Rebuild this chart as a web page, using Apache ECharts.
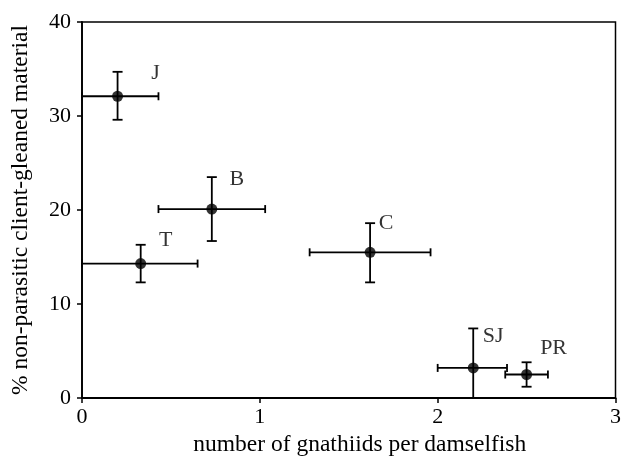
<!DOCTYPE html>
<html>
<head>
<meta charset="utf-8">
<script src="https://cdn.jsdelivr.net/npm/echarts@6/dist/echarts.min.js"></script>
<style>
  html, body { margin: 0; padding: 0; background: #fff; }
  #chart { width: 624px; height: 468px; }
</style>
</head>
<body>
<div id="chart"></div>
<script>
// site codes and measured means / error limits
const sites = ['J', 'B', 'T', 'C', 'SJ', 'PR']
const gnathiids = [0.20, 0.73, 0.33, 1.62, 2.20, 2.50]
const gnathiidsLow = [0.0, 0.43, 0.0, 1.28, 2.00, 2.38]
const gnathiidsHigh = [0.43, 1.03, 0.65, 1.96, 2.39, 2.62]
const material = [32.1, 20.1, 14.3, 15.5, 3.2, 2.5]
const materialLow = [29.6, 16.7, 12.3, 12.3, 0.0, 1.2]
const materialHigh = [34.7, 23.5, 16.3, 18.6, 7.4, 3.8]

const xTicks = [0, 1, 2, 3]
const yTicks = [0, 10, 20, 30, 40]

const font = '"Liberation Serif", "DejaVu Serif", serif'

// label offsets in px (dx, dy) from the point
const labelOffsets = {
  J: [38, -23], B: [25, -30], T: [25, -23], C: [16, -29], SJ: [20, -32], PR: [27, -26]
}

const chart = echarts.init(document.getElementById('chart'))

const errData = sites.map((s, i) => [
  gnathiids[i], material[i],
  gnathiidsLow[i], gnathiidsHigh[i],
  materialLow[i], materialHigh[i]
])

function renderErr(params, api) {
  const c = api.coord([api.value(0), api.value(1)])
  const xl = api.coord([api.value(2), api.value(1)])
  const xh = api.coord([api.value(3), api.value(1)])
  const yl = api.coord([api.value(0), api.value(4)])
  const yh = api.coord([api.value(0), api.value(5)])
  const st = { stroke: '#000', lineWidth: 1.8 }
  const capH = 4
  const capV = 5
  return {
    type: 'group',
    children: [
      { type: 'line', shape: { x1: xl[0], y1: c[1], x2: xh[0], y2: c[1] }, style: st },
      { type: 'line', shape: { x1: xl[0], y1: c[1] - capH, x2: xl[0], y2: c[1] + capH }, style: st },
      { type: 'line', shape: { x1: xh[0], y1: c[1] - capH, x2: xh[0], y2: c[1] + capH }, style: st },
      { type: 'line', shape: { x1: c[0], y1: yl[1], x2: c[0], y2: yh[1] }, style: st },
      { type: 'line', shape: { x1: c[0] - capV, y1: yl[1], x2: c[0] + capV, y2: yl[1] }, style: st },
      { type: 'line', shape: { x1: c[0] - capV, y1: yh[1], x2: c[0] + capV, y2: yh[1] }, style: st }
    ]
  }
}

const option = {
  animation: false,
  grid: {
    left: 82, right: 7, top: 22, bottom: 70,
    show: true, borderColor: '#000', borderWidth: 1.5
  },
  xAxis: {
    type: 'value',
    min: xTicks[0],
    max: xTicks[xTicks.length - 1],
    interval: 1,
    name: 'number of gnathiids per damselfish',
    nameLocation: 'middle',
    nameGap: 30,
    nameTextStyle: { fontFamily: font, fontSize: 23.5, color: '#000', padding: [0, 0, 0, 22] },
    axisLine: { lineStyle: { color: '#000', width: 1.8 } },
    axisTick: { show: true, inside: false, length: 5, lineStyle: { color: '#000', width: 1.5 } },
    axisLabel: { fontFamily: font, fontSize: 22, color: '#000', margin: 8 },
    splitLine: { show: false }
  },
  yAxis: {
    type: 'value',
    min: yTicks[0],
    max: yTicks[yTicks.length - 1],
    interval: 10,
    name: '% non-parasitic client-gleaned material',
    nameLocation: 'middle',
    nameGap: 49,
    nameTextStyle: { fontFamily: font, fontSize: 23.5, color: '#000', padding: [0, 0, 0, 0] },
    axisLine: { lineStyle: { color: '#000', width: 1.8 } },
    axisTick: { show: true, inside: false, length: 5, lineStyle: { color: '#000', width: 1.5 } },
    axisLabel: { fontFamily: font, fontSize: 22, color: '#000', margin: 11 },
    splitLine: { show: false }
  },
  series: [
    {
      type: 'custom',
      renderItem: renderErr,
      data: errData,
      z: 2
    },
    {
      type: 'scatter',
      symbol: 'circle',
      symbolSize: 11,
      itemStyle: { color: '#000' },
      z: 3,
      data: sites.map((s, i) => ({
        value: [gnathiids[i], material[i]],
        name: s,
        label: {
          show: true,
          position: 'inside',
          offset: labelOffsets[s],
          formatter: s,
          fontFamily: font,
          fontSize: 22,
          color: '#000',
          textBorderWidth: 0
        }
      }))
    }
  ]
}

chart.setOption(option)
</script>
</body>
</html>
